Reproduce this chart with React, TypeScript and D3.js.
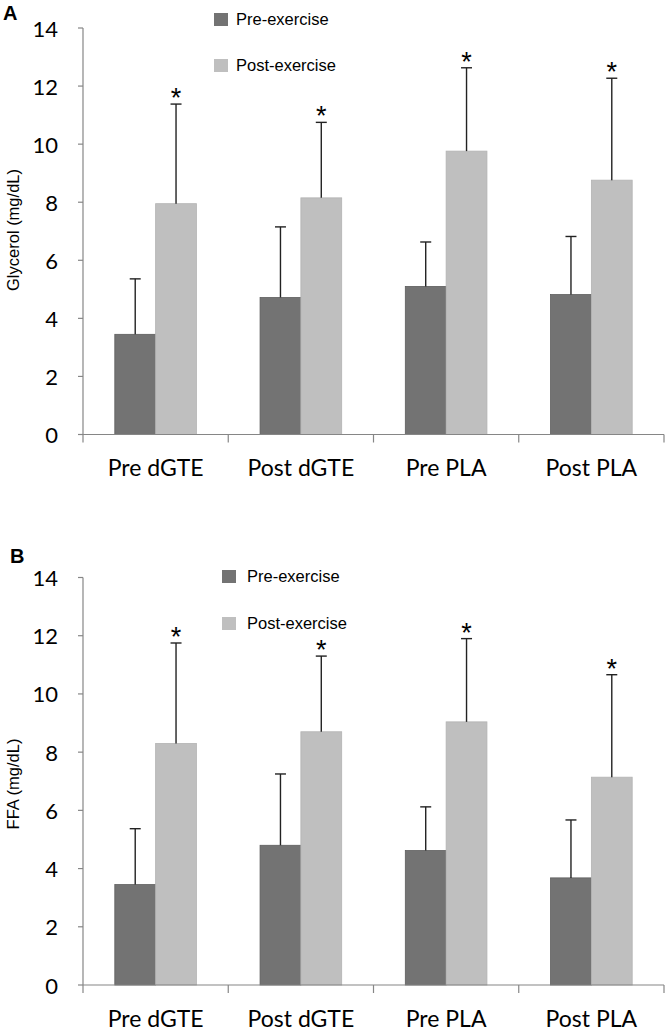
import React from "react";
import * as d3 from "d3";

const categories = ["Pre dGTE", "Post dGTE", "Pre PLA", "Post PLA"];
const series = ["Pre-exercise", "Post-exercise"];
const yTicks = [0, 2, 4, 6, 8, 10, 12, 14];

// Panel A: Glycerol
const glycerolPre = [3.45, 4.72, 5.1, 4.82];
const glycerolPreErrTop = [5.36, 7.15, 6.63, 6.82];
const glycerolPost = [7.95, 8.15, 9.76, 8.76];
const glycerolPostErrTop = [11.38, 10.75, 12.63, 12.27];

// Panel B: FFA
const ffaPre = [3.45, 4.8, 4.62, 3.68];
const ffaPreErrTop = [5.37, 7.25, 6.12, 5.67];
const ffaPost = [8.3, 8.7, 9.04, 7.14];
const ffaPostErrTop = [11.75, 11.3, 11.9, 10.66];

const colors = ["#737373", "#bfbfbf"];
const tickFont = "Lato, 'Open Sans', sans-serif";
const textFont = "'Liberation Sans', Arial, sans-serif";

type PanelProps = {
  letter: string;
  yTitle: string;
  pre: number[];
  preTop: number[];
  post: number[];
  postTop: number[];
  y0: number;
  y14: number;
  legendX: number;
  legendY: number;
  legendGap: number;
  legendTextX: number;
  letterX: number;
  letterY: number;
  titleY: number;
};

function Panel(p: PanelProps) {
  const x = d3.scaleBand<string>().domain(categories).range([83, 664]).padding(0);
  const bw = x.bandwidth();
  const xs = d3
    .scaleBand<string>()
    .domain(series)
    .range([bw * 0.219, bw * 0.781])
    .padding(0);
  const y = d3.scaleLinear().domain([0, 14]).range([p.y0, p.y14]);
  const vals = [p.pre, p.post];
  const tops = [p.preTop, p.postTop];
  const bounds = categories.map((c) => x(c) as number).concat([664]);
  return (
    <g>
      <text x={p.letterX} y={p.letterY} fontFamily={textFont} fontSize={20} fontWeight="bold" fill="#000">
        {p.letter}
      </text>
      <text
        transform={`translate(19,${p.titleY}) rotate(-90)`}
        textAnchor="middle"
        fontFamily={textFont}
        fontSize={16.5}
        fill="#000"
      >
        {p.yTitle}
      </text>
      {/* legend */}
      {series.map((s, i) => (
        <g key={s}>
          <rect
            x={p.legendX}
            y={p.legendY + i * p.legendGap}
            width={14}
            height={13}
            fill={colors[i]}
          />
          <text
            x={p.legendTextX}
            y={p.legendY + i * p.legendGap + 12}
            fontFamily={textFont}
            fontSize={16.5}
            fill="#000"
          >
            {s}
          </text>
        </g>
      ))}
      {/* y axis */}
      <line x1={83} x2={83} y1={y(14)} y2={y(0)} stroke="#868686" strokeWidth={1.2} />
      {yTicks.map((t) => (
        <g key={t}>
          <line x1={78} x2={83} y1={y(t)} y2={y(t)} stroke="#868686" strokeWidth={1.2} />
          <text
            x={58}
            y={y(t)}
            textAnchor="end"
            dominantBaseline="central"
            fontFamily={tickFont}
            fontSize={22}
            fill="#000"
          >
            {t}
          </text>
        </g>
      ))}
      {/* bars */}
      {categories.map((c, ci) =>
        series.map((s, si) => {
          const bx = (x(c) as number) + (xs(s) as number);
          const v = vals[si][ci];
          const top = tops[si][ci];
          const cx = bx + xs.bandwidth() / 2;
          return (
            <g key={c + s}>
              <rect
                x={bx}
                y={y(v)}
                width={xs.bandwidth()}
                height={y(0) - y(v)}
                fill={colors[si]}
                stroke={si === 0 ? "#5e5e5e" : "#b3b3b3"}
                strokeWidth={0.8}
              />
              <line x1={cx} x2={cx} y1={y(v)} y2={y(top)} stroke="#222" strokeWidth={1.4} />
              <line x1={cx - 5.5} x2={cx + 5.5} y1={y(top)} y2={y(top)} stroke="#222" strokeWidth={1.4} />
              {si === 1 && (
                <text
                  x={cx}
                  y={y(top) + 3}
                  textAnchor="middle"
                  fontFamily={textFont}
                  fontSize={27}
                  fill="#000"
                >
                  *
                </text>
              )}
            </g>
          );
        })
      )}
      {/* x axis */}
      <line x1={83} x2={664} y1={y(0)} y2={y(0)} stroke="#868686" strokeWidth={1.2} />
      {bounds.map((b, i) => (
        <line key={i} x1={b} x2={b} y1={y(0)} y2={y(0) + 8} stroke="#868686" strokeWidth={1.2} />
      ))}
      {categories.map((c) => (
        <text
          key={c}
          x={(x(c) as number) + bw / 2}
          y={y(0) + 41.5}
          textAnchor="middle"
          fontFamily={tickFont}
          fontSize={23}
          fill="#000"
        >
          {c}
        </text>
      ))}
    </g>
  );
}

export default function App() {
  return (
    <svg
      width={670}
      height={1030}
      style={{ position: "absolute", left: 0, top: 0, background: "#fff" }}
    >
      <rect x={0} y={0} width={670} height={1030} fill="#fff" />
      <Panel
        letter="A"
        yTitle="Glycerol (mg/dL)"
        pre={glycerolPre}
        preTop={glycerolPreErrTop}
        post={glycerolPost}
        postTop={glycerolPostErrTop}
        y0={434.5}
        y14={28}
        legendX={214}
        legendY={13}
        legendGap={46}
        legendTextX={236}
        letterX={3}
        letterY={20}
        titleY={230}
      />
      <Panel
        letter="B"
        yTitle="FFA (mg/dL)"
        pre={ffaPre}
        preTop={ffaPreErrTop}
        post={ffaPost}
        postTop={ffaPostErrTop}
        y0={985}
        y14={577.5}
        legendX={222}
        legendY={570}
        legendGap={47}
        legendTextX={247}
        letterX={10}
        letterY={563}
        titleY={784}
      />
    </svg>
  );
}
